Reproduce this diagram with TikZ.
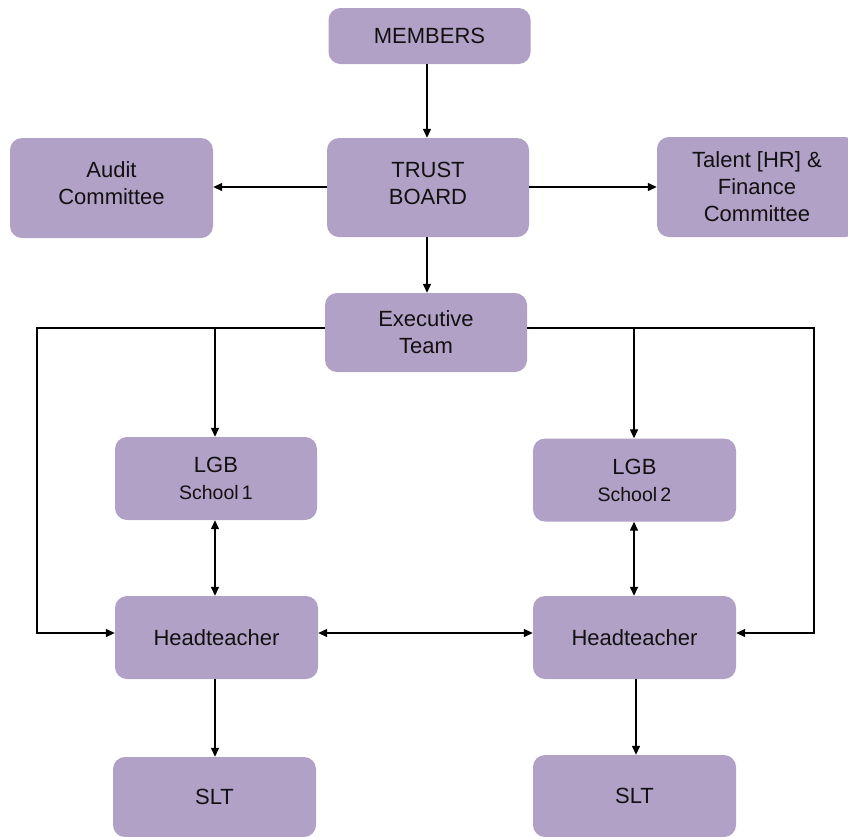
\documentclass[tikz,border=0pt]{standalone}
\usepackage{fontspec}
\setmainfont{Liberation Sans}
\usetikzlibrary{arrows.meta,calc}
\definecolor{boxfill}{HTML}{B2A1C7}
\definecolor{txt}{HTML}{111111}
\tikzset{
  orgbox/.style={draw=none, fill=boxfill, rounded corners=12pt, minimum width=#1, align=center,
    text=txt, font=\fontsize{22}{27}\selectfont, inner sep=0pt},
  orgbox/.default=202pt,
  arr/.style={line width=1.3pt, -{Triangle[length=9pt,width=8pt]}},
  darr/.style={line width=1.3pt, {Triangle[length=9pt,width=8pt]}-{Triangle[length=9pt,width=8pt]}},
  plain/.style={line width=1.3pt}
}
\begin{document}
\begin{tikzpicture}[x=1pt,y=-1pt]
\clip (0,0) rectangle (848,836);
\fill[white] (0,0) rectangle (848,836);
\node[orgbox, minimum height=56pt] (members) at (429.5,36) {MEMBERS};
\node[orgbox, minimum height=99pt, text depth=9pt] (trust) at (428,187.5) {TRUST\\BOARD};
\node[orgbox=203pt, minimum height=100pt, text depth=9pt] (audit) at (111.5,188) {Audit\\Committee};
\node[orgbox=200pt, minimum height=100pt] (talent) at (757,187) {Talent [HR] \&\\Finance\\Committee};
\node[orgbox, minimum height=79pt] (exec) at (426,332.5) {Executive\\Team};
\node[orgbox, minimum height=83pt] (lgb1) at (216,478.5) {LGB\\{\fontsize{19.5}{24}\selectfont School\,1}};
\node[orgbox=203pt, minimum height=83pt] (lgb2) at (634.5,480) {LGB\\{\fontsize{19.5}{24}\selectfont School\,2}};
\node[orgbox=203pt, minimum height=83pt] (head1) at (216.5,637.5) {Headteacher};
\node[orgbox=203pt, minimum height=83pt] (head2) at (634.5,637.5) {Headteacher};
\node[orgbox=203pt, minimum height=80pt] (slt1) at (214.5,797) {SLT};
\node[orgbox=203pt, minimum height=82pt] (slt2) at (634.5,796) {SLT};
\coordinate (lcorner) at (37,328);
\coordinate (rcorner) at (814,328);
\draw[arr] (members.south -| 427,0) -- (trust.north -| 427,0);
\draw[arr] ([yshift=0.5pt]trust.west) -- ([yshift=0.5pt]trust.west -| audit.east);
\draw[arr] ([yshift=0.5pt]trust.east) -- ([yshift=0.5pt]trust.east -| talent.west);
\draw[arr] (trust.south -| 427,0) -- (exec.north -| 427,0);
\draw[arr] ([yshift=4.5pt]exec.west) -- (lcorner) |- ([yshift=4.5pt]head1.west);
\draw[arr] ([yshift=4.5pt]exec.east) -- (rcorner) |- ([yshift=4.5pt]head2.east);
\draw[arr] (lcorner -| 215,0) -- (lgb1.north -| 215,0);
\draw[arr] (rcorner -| 634,0) -- (lgb2.north -| 634,0);
\draw[darr] (lgb1.south -| 215,0) -- (head1.north -| 215,0);
\draw[darr] (lgb2.south -| 634,0) -- (head2.north -| 634,0);
\draw[darr] ([yshift=4.5pt]head1.east) -- ([yshift=4.5pt]head2.west);
\draw[arr] (head1.south -| 215,0) -- (slt1.north -| 215,0);
\draw[arr] (head2.south -| 636,0) -- (slt2.north -| 636,0);
\end{tikzpicture}
\end{document}
